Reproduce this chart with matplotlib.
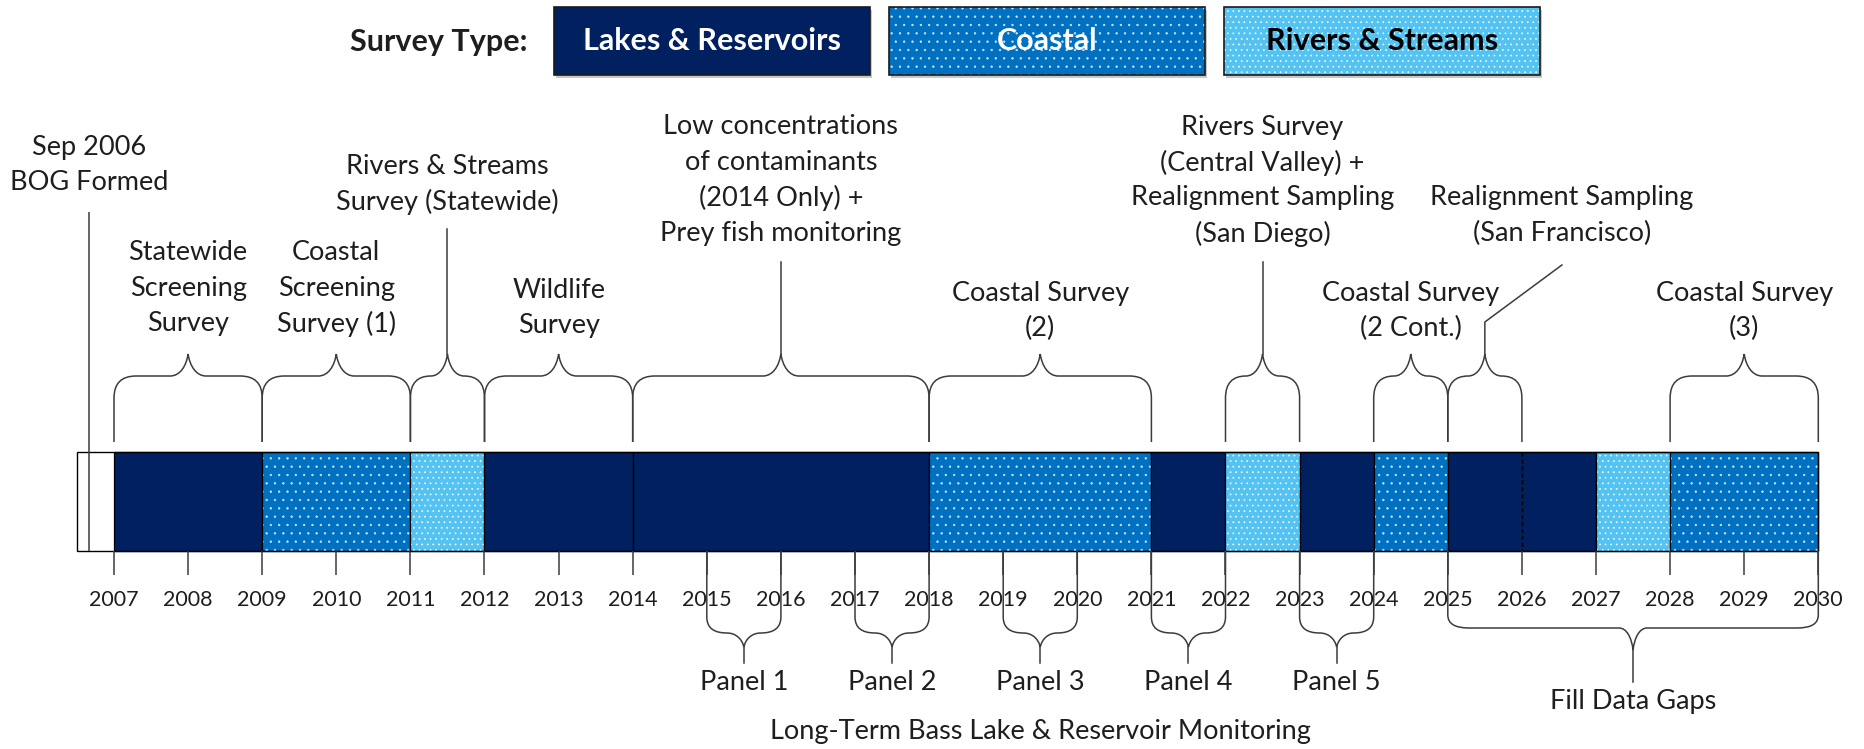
import matplotlib
matplotlib.use('Agg')
import matplotlib.pyplot as plt
from matplotlib.path import Path
from matplotlib.patches import PathPatch, Rectangle

plt.rcParams['font.family'] = ['Lato', 'DejaVu Sans']
plt.rcParams['hatch.linewidth'] = 0.45

# --- data ---------------------------------------------------------------
survey_types = ['Lakes & Reservoirs', 'Coastal', 'Rivers & Streams']

# segments of the timeline bar
seg_start = [2007, 2009, 2011, 2012, 2014, 2018, 2021, 2022, 2023, 2024, 2025, 2027, 2028]
seg_end = [2009, 2011, 2012, 2014, 2018, 2021, 2022, 2023, 2024, 2025, 2027, 2028, 2030]
seg_type = ['Lakes & Reservoirs', 'Coastal', 'Rivers & Streams', 'Lakes & Reservoirs',
            'Lakes & Reservoirs', 'Coastal', 'Lakes & Reservoirs', 'Rivers & Streams',
            'Lakes & Reservoirs', 'Coastal', 'Lakes & Reservoirs', 'Rivers & Streams',
            'Coastal']

years = list(range(2007, 2031))
bog_date = 2006 + 8 / 12      # Sep 2006
pre_start = 2006.5
split_year = 2026             # dashed divider inside 2025-2027

# surveys marked with braces above the bar
top_start = [2007, 2009, 2011, 2012, 2014, 2018, 2022, 2024, 2025, 2028]
top_end = [2009, 2011, 2012, 2014, 2018, 2021, 2023, 2025, 2026, 2030]
top_text = ['Statewide\nScreening\nSurvey',
            'Coastal\nScreening\nSurvey (1)',
            'Rivers & Streams\nSurvey (Statewide)',
            'Wildlife\nSurvey',
            'Low concentrations\nof contaminants\n(2014 Only) +\nPrey fish monitoring',
            'Coastal Survey\n(2)',
            'Rivers Survey\n(Central Valley) +\nRealignment Sampling\n(San Diego)',
            'Coastal Survey\n(2 Cont.)',
            'Realignment Sampling\n(San Francisco)',
            'Coastal Survey\n(3)']

# monitoring panels below the bar
panel_start = [2015, 2017, 2019, 2021, 2023]
panel_end = [2016, 2018, 2020, 2022, 2024]
panel_names = ['Panel 1', 'Panel 2', 'Panel 3', 'Panel 4', 'Panel 5']
gap_start, gap_end = 2025, 2030

# --- layout (pixels from the top) ---------------------------------------
W, H = 1865, 749
PPY = 74.1                       # pixels per year
X_LEFT = 2007 - 114 / PPY
BAR_TOP, BAR_BOT = 452, 551
TXT = '#1e1e1e'
LINE = '#3c3c3c'
colors = {'Lakes & Reservoirs': '#002060', 'Coastal': '#0070C0', 'Rivers & Streams': '#55C3F2'}
hatches = {'Lakes & Reservoirs': None, 'Coastal': '..', 'Rivers & Streams': '...'}
dot_colors = {'Lakes & Reservoirs': 'white', 'Coastal': '#cfe6f7', 'Rivers & Streams': 'white'}
text_colors = {'Lakes & Reservoirs': 'white', 'Coastal': 'white', 'Rivers & Streams': 'black'}

top_first_y = [253, 253, 166, 290, 127, 293, 127, 293, 198, 293]
top_stem_to = [None, None, 229, None, 262, None, 262, None, 322, None]
FS = 19.5
LS = 35.5

fig = plt.figure(figsize=(W / 100, H / 100), dpi=100)
ax = fig.add_axes([0, 0, 1, 1])
ax.set_xlim(X_LEFT, X_LEFT + W / PPY)
ax.set_ylim(H, 0)
ax.axis('off')


def draw_lines(x, y_first, text, size=FS, **kw):
    for i, line in enumerate(text.split('\n')):
        ax.text(x, y_first + i * LS, line, ha='center', va='center',
                fontsize=size, color=TXT, **kw)


def brace(x0, x1, y_end, y_flat, y_tip, rh=22, rv=22, th=18):
    s = 1 if y_tip > y_end else -1
    xc = (x0 + x1) / 2
    half = (x1 - x0) * PPY / 2
    rh = min(rh, half * 0.55)
    th = min(th, half - rh)
    rh, th = rh / PPY, th / PPY
    dy = y_tip - y_flat
    verts = [(x0, y_end), (x0, y_flat - s * rv),
             (x0, y_flat), (x0 + rh, y_flat),
             (xc - th, y_flat),
             (xc - th * 0.45, y_flat), (xc - th * 0.1, y_flat + 0.45 * dy), (xc, y_tip),
             (xc + th * 0.1, y_flat + 0.45 * dy), (xc + th * 0.45, y_flat), (xc + th, y_flat),
             (x1 - rh, y_flat),
             (x1, y_flat), (x1, y_flat - s * rv),
             (x1, y_end)]
    codes = [Path.MOVETO, Path.LINETO,
             Path.CURVE3, Path.CURVE3,
             Path.LINETO,
             Path.CURVE4, Path.CURVE4, Path.CURVE4,
             Path.CURVE4, Path.CURVE4, Path.CURVE4,
             Path.LINETO,
             Path.CURVE3, Path.CURVE3,
             Path.LINETO]
    ax.add_patch(PathPatch(Path(verts, codes), fill=False, edgecolor=LINE, lw=1.1))
    return xc


# --- timeline bar --------------------------------------------------------
for s, e, t in zip(seg_start, seg_end, seg_type):
    ax.add_patch(Rectangle((s, BAR_TOP), e - s, BAR_BOT - BAR_TOP, facecolor=colors[t],
                           hatch=hatches[t], edgecolor=dot_colors[t], linewidth=0))
    ax.add_patch(Rectangle((s, BAR_TOP), e - s, BAR_BOT - BAR_TOP, fill=False,
                           edgecolor='black', linewidth=0.9))
ax.add_patch(Rectangle((pre_start, BAR_TOP), seg_end[-1] - pre_start, BAR_BOT - BAR_TOP,
                       fill=False, edgecolor='black', linewidth=1.0))
ax.vlines(split_year, BAR_TOP, BAR_BOT, colors='black', linestyles=(0, (3, 2)), lw=1.0)
ax.vlines(bog_date, 212, BAR_BOT, colors=LINE, lw=1.1)
draw_lines(bog_date, 147, 'Sep 2006\nBOG Formed')

# year ticks and labels
ax.vlines(years, BAR_BOT, 575, colors=LINE, lw=1.1)
for y in years:
    ax.text(y, 600, str(y), ha='center', va='center', fontsize=15.5, color=TXT)

# --- braces above -----------------------------------------------------------
for i, (s, e, txt) in enumerate(zip(top_start, top_end, top_text)):
    xc = brace(s, e, 442, 376, 354)
    if i == 8:
        # Realignment (San Francisco): stem with a leader to the offset label
        tx = 2026.54
        ax.plot([xc, xc, tx], [354, top_stem_to[i], 265], color=LINE, lw=1.1)
        draw_lines(tx, top_first_y[i], txt)
        continue
    if top_stem_to[i] is not None:
        ax.plot([xc, xc], [354, top_stem_to[i]], color=LINE, lw=1.1)
    draw_lines(xc, top_first_y[i], txt)

# --- braces below -----------------------------------------------------------
for s, e, name in zip(panel_start, panel_end, panel_names):
    xc = brace(s, e, BAR_BOT, 633, 647, rh=20, rv=16, th=17)
    ax.plot([xc, xc], [647, 663], color=LINE, lw=1.1)
    draw_lines(xc, 683, name)

xc = brace(gap_start, gap_end, BAR_BOT, 628, 650, rh=21, rv=13, th=14)
ax.plot([xc, xc], [650, 682], color=LINE, lw=1.1)
draw_lines(xc, 702, 'Fill Data Gaps')
draw_lines((panel_start[0] + panel_end[-1]) / 2, 732, 'Long-Term Bass Lake & Reservoir Monitoring')

# --- legend (pixel coordinates) ---------------------------------------------
lax = fig.add_axes([0, 0, 1, 1])
lax.set_xlim(0, W)
lax.set_ylim(H, 0)
lax.axis('off')
lax.text(527, 42, 'Survey Type:', ha='right', va='center', fontsize=22,
         fontweight='bold', color=TXT)
for i, t in enumerate(survey_types):
    x = 554 + i * 335
    lax.add_patch(Rectangle((x + 2, 10), 316, 68, facecolor='#c8c8c8', linewidth=0))
    lax.add_patch(Rectangle((x, 7), 316, 68, facecolor=colors[t], hatch=hatches[t],
                            edgecolor=dot_colors[t], linewidth=0))
    lax.add_patch(Rectangle((x, 7), 316, 68, fill=False, edgecolor='#1a1a1a', linewidth=1.2))
    lax.text(x + 158, 41, t, ha='center', va='center', fontsize=22, fontweight='bold',
             color=text_colors[t])

fig.savefig('out.png', dpi=100)
